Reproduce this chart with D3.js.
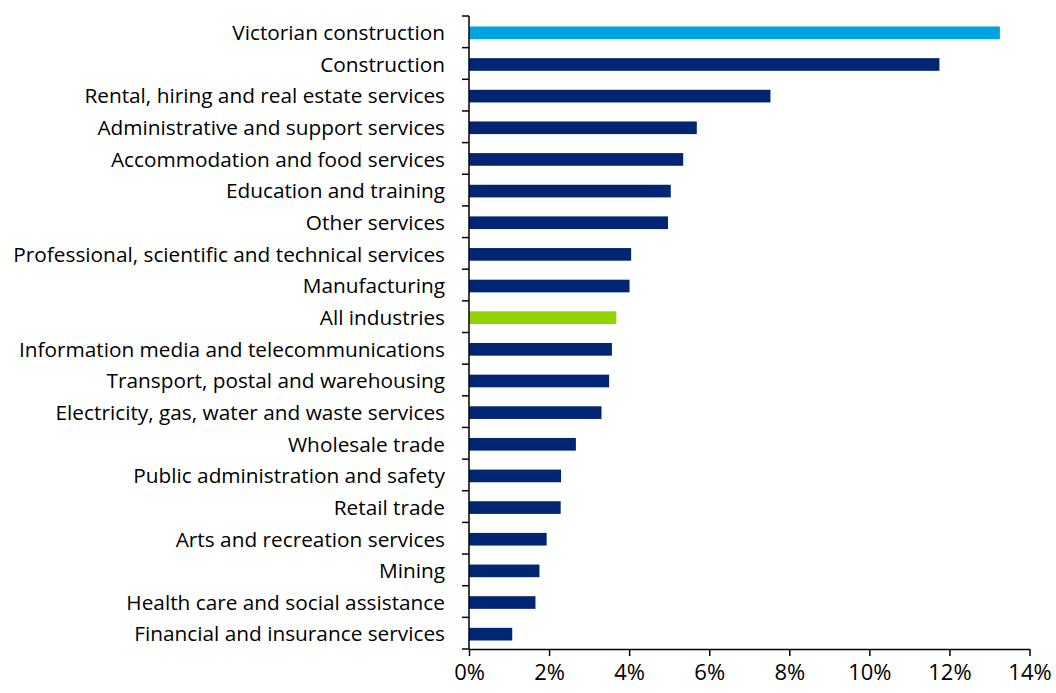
<!DOCTYPE html>
<html>
<head>
<meta charset="utf-8">
<script src="https://cdn.jsdelivr.net/npm/d3@7"></script>
<style>
  html, body { margin: 0; padding: 0; background: #fff; }
  svg { display: block; }
  text { font-family: "Open Sans", Lato, sans-serif; fill: #000; }
</style>
</head>
<body>
<svg id="chart" width="1056" height="693"></svg>
<script>
const categories = [
  "Victorian construction",
  "Construction",
  "Rental, hiring and real estate services",
  "Administrative and support services",
  "Accommodation and food services",
  "Education and training",
  "Other services",
  "Professional, scientific and technical services",
  "Manufacturing",
  "All industries",
  "Information media and telecommunications",
  "Transport, postal and warehousing",
  "Electricity, gas, water and waste services",
  "Wholesale trade",
  "Public administration and safety",
  "Retail trade",
  "Arts and recreation services",
  "Mining",
  "Health care and social assistance",
  "Financial and insurance services"
];
const values = [13.26, 11.75, 7.53, 5.69, 5.35, 5.04, 4.97, 4.05, 4.01, 3.68, 3.57, 3.50, 3.31, 2.67, 2.30, 2.29, 1.94, 1.76, 1.66, 1.08];
const xTicks = [0, 2, 4, 6, 8, 10, 12, 14];
const highlight = { "Victorian construction": "#00A3E0", "All industries": "#92D400" };
const baseColor = "#002673";

const svg = d3.select("#chart");
const margin = { left: 469, top: 16, right: 26.5, bottom: 44 };
const W = 1056, H = 693;
const x = d3.scaleLinear().domain([0, 14]).range([margin.left, W - margin.right]);
const y = d3.scaleBand().domain(categories).range([margin.top + 1, H - margin.bottom + 1]).paddingInner(0.6).paddingOuter(0.3);

const data = categories.map((c, i) => ({ c, v: values[i] }));

svg.append("g").selectAll("rect").data(data).join("rect")
  .attr("x", x(0))
  .attr("y", d => y(d.c))
  .attr("width", d => x(d.v) - x(0))
  .attr("height", y.bandwidth())
  .attr("fill", d => highlight[d.c] || baseColor);

// Y axis: line with outward ticks at category boundaries
const yAxisG = svg.append("g");
const boundaries = d3.range(categories.length + 1).map(i => margin.top + i * (H - margin.bottom - margin.top) / categories.length);
yAxisG.append("line")
  .attr("x1", x(0)).attr("x2", x(0))
  .attr("y1", boundaries[0]).attr("y2", boundaries[boundaries.length - 1])
  .attr("stroke", "#000").attr("stroke-width", 1.5);
yAxisG.selectAll("line.tick").data(boundaries).join("line")
  .attr("class", "tick")
  .attr("x1", x(0) - 7).attr("x2", x(0))
  .attr("y1", d => d).attr("y2", d => d)
  .attr("stroke", "#000").attr("stroke-width", 1.5);
yAxisG.selectAll("text").data(categories).join("text")
  .attr("x", 445)
  .attr("y", d => y(d) + y.bandwidth() / 2)
  .attr("dy", "0.35em")
  .attr("text-anchor", "end")
  .attr("font-size", "20.8px")
  .text(d => d);

// X axis
const xAxis = d3.axisBottom(x).tickValues(xTicks).tickFormat(d => d + "%").tickSize(7).tickSizeOuter(0);
const xg = svg.append("g").attr("transform", `translate(0,${H - margin.bottom})`).call(xAxis);
xg.select(".domain").attr("stroke", "#000").attr("stroke-width", 1.5);
xg.selectAll(".tick line").attr("stroke", "#000").attr("stroke-width", 1.5);
xg.selectAll(".tick text").attr("font-size", "22px").attr("font-family", "'Open Sans', sans-serif").attr("fill", "#000").attr("dy", "0.95em");
</script>
</body>
</html>
